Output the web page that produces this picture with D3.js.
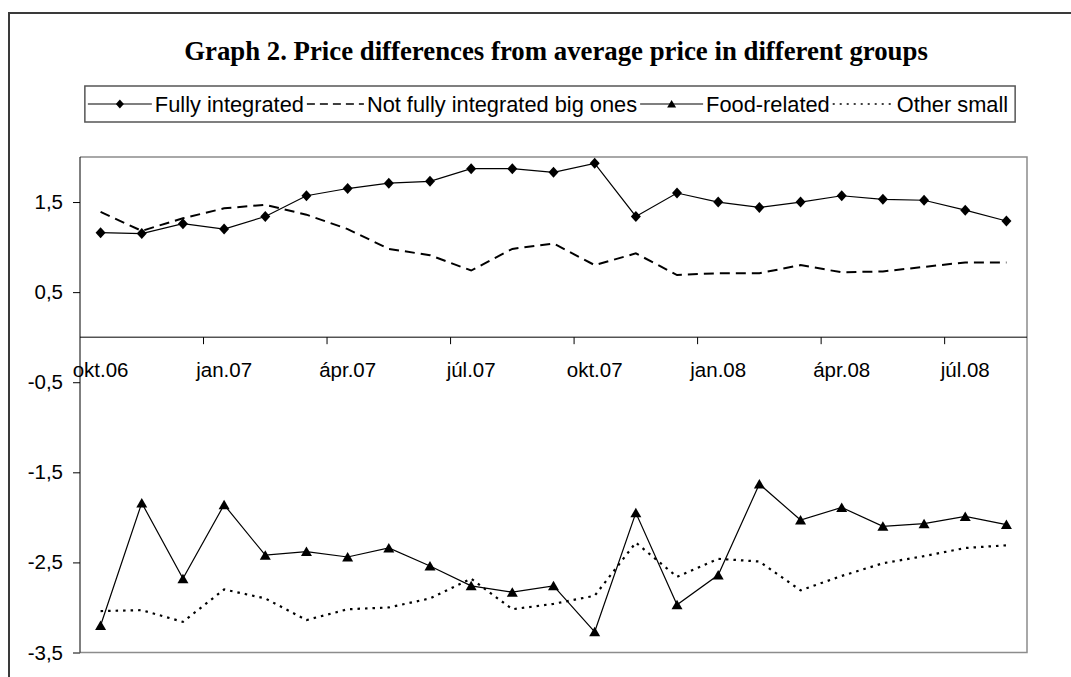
<!DOCTYPE html>
<html>
<head>
<meta charset="utf-8">
<script src="https://cdn.jsdelivr.net/npm/d3@7"></script>
<style>
  html, body { margin: 0; padding: 0; background: #fff; }
  svg { display: block; }
</style>
</head>
<body>
<svg id="chart" width="1071" height="677"></svg>
<script>
// ---- data ----
const categories = ["okt.06","nov.06","dec.06","jan.07","febr.07","márc.07","ápr.07","máj.07","jún.07","júl.07","aug.07","szept.07","okt.07","nov.07","dec.07","jan.08","febr.08","márc.08","ápr.08","máj.08","jún.08","júl.08","aug.08"];
const labelledCategories = ["okt.06","jan.07","ápr.07","júl.07","okt.07","jan.08","ápr.08","júl.08"];
const fullyIntegrated = [1.16,1.15,1.26,1.20,1.34,1.57,1.65,1.71,1.73,1.87,1.87,1.83,1.93,1.34,1.60,1.50,1.44,1.50,1.57,1.53,1.52,1.41,1.29];
const notFullyIntegrated = [1.39,1.18,1.32,1.43,1.47,1.36,1.20,0.98,0.91,0.74,0.98,1.04,0.80,0.93,0.69,0.71,0.71,0.80,0.72,0.73,0.78,0.83,0.83];
const foodRelated = [-3.20,-1.84,-2.68,-1.86,-2.42,-2.38,-2.44,-2.34,-2.54,-2.76,-2.83,-2.76,-3.27,-1.95,-2.97,-2.64,-1.63,-2.03,-1.89,-2.10,-2.07,-1.99,-2.08];
const otherSmall = [-3.04,-3.03,-3.16,-2.80,-2.90,-3.14,-3.02,-3.00,-2.90,-2.68,-3.02,-2.96,-2.87,-2.28,-2.66,-2.46,-2.49,-2.81,-2.65,-2.51,-2.43,-2.34,-2.31];
const yTickValues = [-3.5,-2.5,-1.5,-0.5,0.5,1.5];
const yTickLabels = ["-3,5","-2,5","-1,5","-0,5","0,5","1,5"];
const seriesNames = ["Fully integrated","Not fully integrated big ones","Food-related","Other small"];
const titleText = "Graph 2. Price differences from average price in different groups";

// ---- layout ----
const svg = d3.select("#chart");
const plot = {left: 80, right: 1027, top: 157, bottom: 652.5};
const x = d3.scaleBand().domain(categories).range([plot.left, plot.right]).paddingInner(0).paddingOuter(0);
const y = d3.scaleLinear().domain([-3.5, 2]).range([plot.bottom, plot.top]);
const cx = c => x(c) + x.bandwidth() / 2;

// outer frame (top + left visible)
svg.append("path")
  .attr("d", "M9,677 L9,13 L1071,13")
  .attr("fill", "none").attr("stroke", "#3a3a3a").attr("stroke-width", 2);

// title
svg.append("text")
  .attr("x", 556).attr("y", 60)
  .attr("text-anchor", "middle")
  .attr("font-family", "'Liberation Serif','Times New Roman',serif")
  .attr("font-weight", "bold").attr("font-size", 26.8)
  .attr("fill", "#000")
  .text(titleText);

// plot area border (gray top/right/bottom)
svg.append("path")
  .attr("d", `M${plot.left},${plot.top} L${plot.right},${plot.top} L${plot.right},${plot.bottom} L${plot.left},${plot.bottom}`)
  .attr("fill", "none").attr("stroke", "#8c8c8c").attr("stroke-width", 1.5);

// y axis
const yAxis = d3.axisLeft(y).tickValues(yTickValues)
  .tickFormat((d, i) => yTickLabels[i]).tickSize(7).tickPadding(10).tickSizeOuter(0);
const gy = svg.append("g").attr("transform", `translate(${plot.left},0)`).call(yAxis);
gy.select(".domain").attr("stroke", "#000").attr("d", `M0,${plot.top}V${plot.bottom}`);
gy.selectAll(".tick line").attr("stroke", "#000");
gy.selectAll(".tick text").attr("font-family", "'Liberation Sans',Arial,sans-serif").attr("font-size", 20.5).attr("fill", "#000");

// x axis at y = 0
const y0 = y(0);
const xAxis = d3.axisBottom(x).tickValues(labelledCategories).tickSize(0).tickPadding(25);
const gx = svg.append("g").attr("transform", `translate(0,${y0})`).call(xAxis);
gx.select(".domain").remove();
gx.selectAll(".tick text").attr("font-family", "'Liberation Sans',Arial,sans-serif").attr("font-size", 20.5).attr("fill", "#000");
svg.append("line").attr("x1", plot.left).attr("x2", plot.right).attr("y1", y0).attr("y2", y0)
  .attr("stroke", "#000").attr("stroke-width", 1);
svg.append("g").selectAll("line")
  .data(labelledCategories.slice(1))
  .join("line")
  .attr("x1", d => x(d)).attr("x2", d => x(d))
  .attr("y1", y0).attr("y2", y0 + 7)
  .attr("stroke", "#000").attr("stroke-width", 1);

// series
const line = d3.line().x((d, i) => cx(categories[i])).y(d => y(d));
const styles = [
  {data: fullyIntegrated, width: 1.2, dash: null, marker: "diamond"},
  {data: notFullyIntegrated, width: 2, dash: "10,6", marker: null},
  {data: foodRelated, width: 1.2, dash: null, marker: "triangle"},
  {data: otherSmall, width: 2.2, dash: "2.5,5", marker: null}
];
const diamondPath = "M0,-5.5L5,0L0,5.5L-5,0Z";
const trianglePath = "M0,-5L5.5,4.5L-5.5,4.5Z";

styles.forEach(s => {
  svg.append("path").datum(s.data)
    .attr("d", line).attr("fill", "none")
    .attr("stroke", "#000").attr("stroke-width", s.width)
    .attr("stroke-dasharray", s.dash);
  if (s.marker) {
    svg.append("g").selectAll("path").data(s.data).join("path")
      .attr("d", s.marker === "diamond" ? diamondPath : trianglePath)
      .attr("transform", (d, i) => `translate(${cx(categories[i])},${y(d)})`)
      .attr("fill", "#000");
  }
});

// legend
const lg = svg.append("g");
const legendTop = 86, legendH = 36, legendMid = legendTop + legendH / 2;
const sampleW = [64, 57, 63, 61];
let cursor = 0;
const items = lg.append("g");
seriesNames.forEach((name, i) => {
  const s = styles[i];
  const sx = cursor + 3;
  items.append("line")
    .attr("x1", sx).attr("x2", sx + sampleW[i])
    .attr("y1", legendMid).attr("y2", legendMid)
    .attr("stroke", "#000").attr("stroke-width", s.width === 1.2 ? 1.2 : 1.5)
    .attr("stroke-dasharray", s.dash ? (i === 1 ? "8,5" : "2,5") : null);
  if (s.marker) {
    items.append("path")
      .attr("d", s.marker === "diamond" ? "M0,-4.5L4,0L0,4.5L-4,0Z" : "M0,-4L4.5,3.5L-4.5,3.5Z")
      .attr("transform", `translate(${sx + sampleW[i] / 2},${legendMid})`)
      .attr("fill", "#000");
  }
  const t = items.append("text")
    .attr("x", sx + sampleW[i] + 3).attr("y", legendMid).attr("dy", "0.35em")
    .attr("font-family", "'Liberation Sans',Arial,sans-serif").attr("font-size", 21.8)
    .attr("fill", "#000").text(name);
  cursor = sx + sampleW[i] + 3 + t.node().getComputedTextLength();
});
const legendW = cursor + 7;
const legendLeft = 550 - legendW / 2;
items.attr("transform", `translate(${legendLeft},0)`);
lg.insert("rect", ":first-child")
  .attr("x", legendLeft).attr("y", legendTop).attr("width", legendW).attr("height", legendH)
  .attr("fill", "#fff").attr("stroke", "#555").attr("stroke-width", 1.5);
</script>
</body>
</html>
